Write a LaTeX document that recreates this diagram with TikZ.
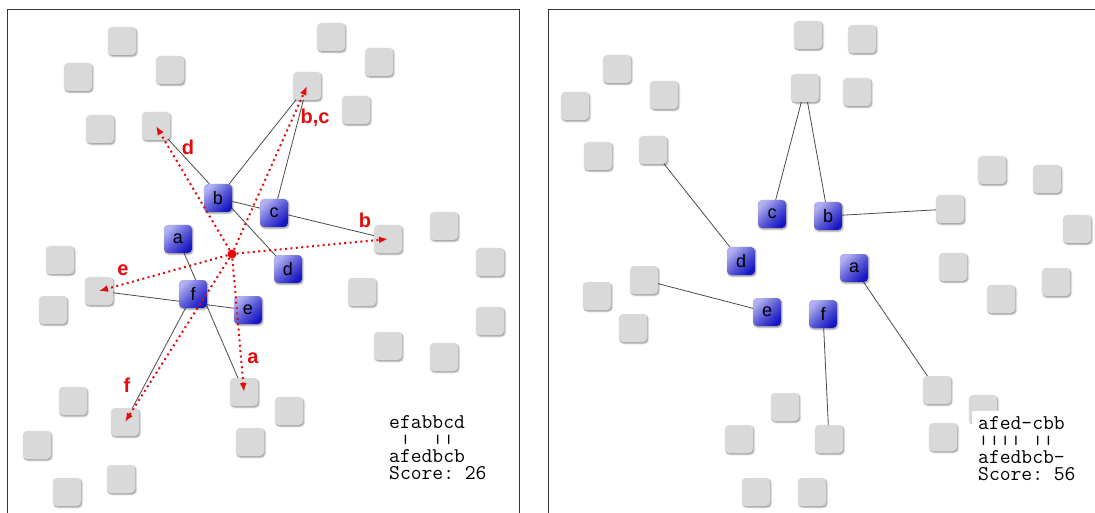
\documentclass[tikz,border=0pt]{standalone}
\usepackage{fontspec}
\usepackage{graphicx}
\setmainfont{Liberation Sans}
\usetikzlibrary{arrows.meta,shadows.blur,backgrounds}

\definecolor{tilegray}{RGB}{217,217,217}
\definecolor{framegray}{RGB}{55,55,55}
\definecolor{edgegray}{RGB}{75,75,75}
\definecolor{markred}{RGB}{226,12,12}
\definecolor{blueLight}{RGB}{176,176,240}
\definecolor{blueMid}{RGB}{92,92,215}
\definecolor{blueDark}{RGB}{22,22,196}

% short match bar used in the alignment rows
\newcommand{\matchbar}{\raisebox{1.6pt}{\scalebox{1}[0.58]{|}}}

\tikzset{
  tile/.style={minimum size=28pt, inner sep=0pt, rounded corners=4pt, fill=tilegray,
    blur shadow={shadow xshift=0.9pt, shadow yshift=-1.2pt, shadow blur radius=1.6pt, shadow opacity=45}},
  btile/.style={tile, top color=blueLight, bottom color=blueDark, middle color=blueMid,
    shading angle=45, text=black, font=\fontsize{18}{18}\selectfont},
  link/.style={draw=edgegray, line width=0.8pt},
  move/.style={draw=markred, line width=2pt, dash pattern=on 2pt off 3.4pt,
    -{Latex[length=9pt,width=7pt]}},
  hubdot/.style={circle, fill=markred, minimum size=9pt, inner sep=0pt},
  tag/.style={text=markred, font=\bfseries\fontsize{20}{20}\selectfont, inner sep=0pt, anchor=base},
  frame/.style={draw=framegray, line width=1pt},
  score/.style={font=\ttfamily\addfontfeature{FakeBold=0.7}\fontsize{21}{17}\selectfont,
    align=left, fill=white, inner xsep=6pt, inner ysep=5pt, anchor=north west}
}

\begin{document}
\begin{tikzpicture}[x=1pt, y=-1pt]
\useasboundingbox (0,0) rectangle (1095,513);

% panel frames (open at the bottom / right edge)
\draw[frame] (7,514) -- (7,10) -- (519,10) -- (519,514);
\draw[frame] (548,514) -- (548,10) -- (1096,10);

% ---------------- left panel ----------------
\foreach \px/\py [count=\i] in {122/41, 78/77, 170/70, 100/129, 331/37, 379/62, 356/110,
    60/260, 53/310, 444/226, 490/262, 362/292, 490/321, 388/346, 444/357, 73/401,
    289/411, 37/445, 250/442, 121/479, 67/492}
  \node[tile] (L\i) at (\px,\py) {};

\node[tile] (Lbc) at (307,86)  {};
\node[tile] (Ld)  at (156,126) {};
\node[tile] (Lb)  at (388,239) {};
\node[tile] (Le)  at (99,291)  {};
\node[tile] (La)  at (244,392) {};
\node[tile] (Lf)  at (125,422) {};

\node[btile] (la) at (178,239) {a};
\node[btile] (lb) at (218,198) {b};
\node[btile] (lc) at (274,213) {c};
\node[btile] (ld) at (288,269) {d};
\node[btile] (le) at (248,310) {e};
\node[btile] (lf) at (193,294) {f};

\node[hubdot] (hub) at (232,254) {};
\draw[move] (hub) -- (Ld.center);
\draw[move] (hub) -- (Lbc.center);
\draw[move] (hub) -- (Lb.center);
\draw[move] (hub) -- (Le.center);
\draw[move] (hub) -- (Lf.center);
\draw[move] (hub) -- (La.center);

\node[tag] (tagd)  at (188,155) {d};
\node[tag] (tagbc) at (315,124) {b,c};
\node[tag] (tagb)  at (365,228) {b};
\node[tag] (tage)  at (123,276) {e};
\node[tag] (tagf)  at (127,392) {f};
\node[tag] (taga)  at (253,363) {a};

\node[score] (scoreL) at (383,410)
  {efabbcd\\~\matchbar~~\matchbar\matchbar\\afedbcb\\Score:~26};

% ---------------- right panel ----------------
\foreach \px/\py [count=\i] in {808/35, 862/39, 617/69, 664/95, 575/106, 857/92, 598/156,
    992/170, 1047/179, 1077/229, 953/267, 1056/282, 1001/299, 597/296, 633/328,
    983/409, 785/407, 739/439, 943/437, 756/492, 812/492}
  \node[tile] (R\i) at (\px,\py) {};

\node[tile] (Rcb) at (805,88)  {};
\node[tile] (Rd)  at (653,150) {};
\node[tile] (Rb)  at (950,209) {};
\node[tile] (Re)  at (644,280) {};
\node[tile] (Ra)  at (937,390) {};
\node[tile] (Rf)  at (829,439) {};

\node[btile] (ra) at (854,268) {a};
\node[btile] (rb) at (828,216) {b};
\node[btile] (rc) at (772,214) {c};
\node[btile] (rd) at (741,261) {d};
\node[btile] (re) at (767,312) {e};
\node[btile] (rf) at (823,314) {f};

\node[score] (scoreR) at (972,411)
  {afed-cbb\\\matchbar\matchbar\matchbar\matchbar~\matchbar\matchbar\\afedbcb-\\Score:~56};

% links between tiles, kept underneath the tiles
\begin{pgfonlayer}{background}
  \draw[link] (lb.center) -- (Lbc.center);
  \draw[link] (lc.center) -- (Lbc.center);
  \draw[link] (lb.center) -- (Lb.center);
  \draw[link] (ld.center) -- (Ld.center);
  \draw[link] (la.center) -- (La.center);
  \draw[link] (le.center) -- (Le.center);
  \draw[link] (lf.center) -- (Lf.center);
  \draw[link] (rc.center) -- (Rcb.center);
  \draw[link] (rb.center) -- (Rcb.center);
  \draw[link] (rb.center) -- (Rb.center);
  \draw[link] (rd.center) -- (Rd.center);
  \draw[link] (re.center) -- (Re.center);
  \draw[link] (ra.center) -- (Ra.center);
  \draw[link] (rf.center) -- (Rf.center);
\end{pgfonlayer}

\end{tikzpicture}
\end{document}
